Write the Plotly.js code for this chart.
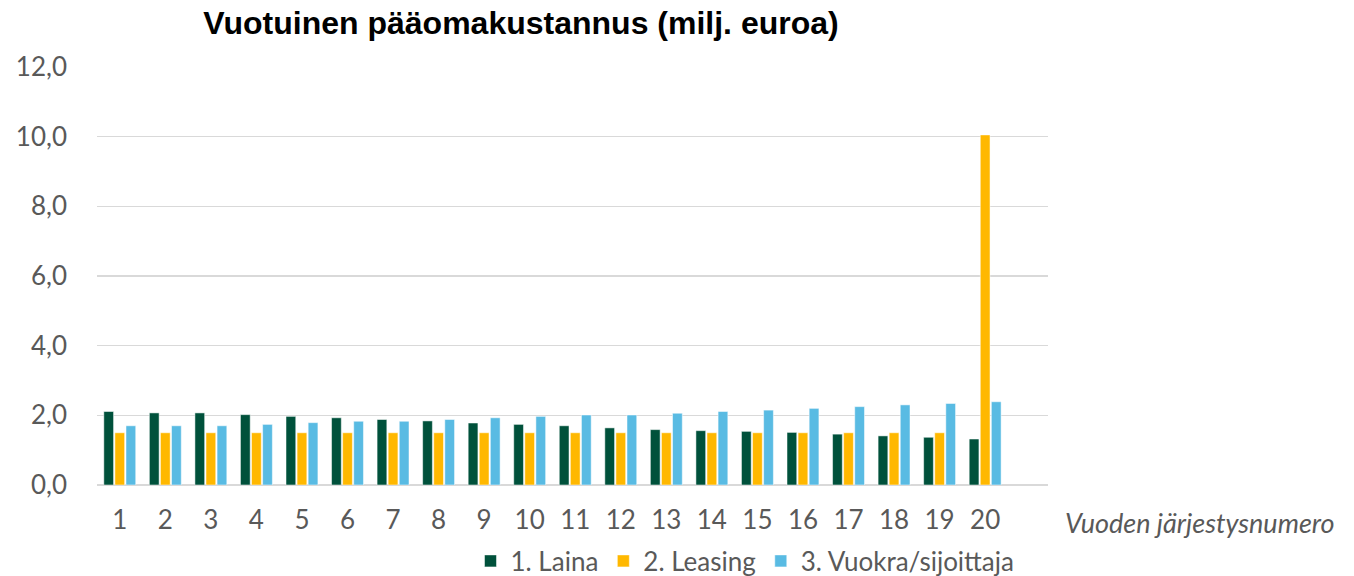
<!DOCTYPE html>
<html><head><meta charset="utf-8">
<script src="https://cdn.plot.ly/plotly-3.0.1.min.js"></script>
<style>html,body{margin:0;padding:0;background:#fff}</style>
</head><body>
<div id="chart" style="width:1354px;height:576px"></div>
<script>
const years = [1,2,3,4,5,6,7,8,9,10,11,12,13,14,15,16,17,18,19,20];
const laina = [2.11,2.07,2.07,2.02,1.97,1.93,1.88,1.84,1.78,1.74,1.70,1.64,1.59,1.56,1.54,1.51,1.46,1.41,1.37,1.32];
const leasing = [1.5,1.5,1.5,1.5,1.5,1.5,1.5,1.5,1.5,1.5,1.5,1.5,1.5,1.5,1.5,1.5,1.5,1.5,1.5,10.05];
const vuokra = [1.70,1.70,1.70,1.74,1.79,1.83,1.83,1.88,1.93,1.97,2.01,2.01,2.06,2.11,2.15,2.20,2.25,2.30,2.34,2.39];
const seriesNames = ['1. Laina','2. Leasing','3. Vuokra/sijoittaja'];
const colors = ['#00513B','#FFB800','#59BBE3'];
const yTicks = [0,2,4,6,8,10,12];

const data = [laina, leasing, vuokra].map((v,i)=>({
  type:'bar', x: years, y: v, name: seriesNames[i],
  marker:{color: colors[i], line:{color:'#ffffff', width:0.5}},
  hoverinfo:'x+y'
}));

const L = 97, R = 1048, T = 67, B = 485;
const pw = R - L, ph = B - T;

const layout = {
  width:1354, height:576,
  margin:{l:L, r:1354-R, t:T, b:576-B, autoexpand:false},
  paper_bgcolor:'#fff', plot_bgcolor:'#fff',
  separators:', ',
  barmode:'group', bargap:0.27, bargroupgap:0.12,
  font:{family:'Lato, "Open Sans", sans-serif', color:'#595959', size:26},
  title:{text:'Vuotuinen pääomakustannus (milj. euroa)', x:521/1354, xanchor:'center', y:1-23/576, yanchor:'middle',
    font:{family:'"Liberation Sans", Arial, sans-serif', size:32, color:'#000', weight:'bold'}},
  xaxis:{range:[0.5,21.38], tickvals:years, ticktext:years.map(String), showgrid:false, zeroline:false,
    showline:false, ticks:'', tickangle:0, ticklabelstandoff:17, tickfont:{size:26, color:'#595959'}},
  yaxis:{range:[0,12], tickvals:yTicks, ticktext:yTicks.map(v=>v.toFixed(1).replace('.',',')),
    showgrid:true, gridcolor:'#D9D9D9', gridwidth:1.5, zeroline:true, zerolinecolor:'#D9D9D9', zerolinewidth:1.5,
    showline:false, ticks:'', ticklabelstandoff:29, tickfont:{size:26, color:'#595959'}},
  legend:{orientation:'h', xref:'paper', x:(745-L)/pw, xanchor:'center', y:-76/ph, yanchor:'middle',
    font:{size:26, color:'#595959'}, itemwidth:30, traceorder:'normal'},
  annotations:[{text:'<i>Vuoden järjestysnumero</i>', xref:'paper', yref:'paper', x:(1063-L)/pw, xanchor:'left',
    y:-37/ph, yanchor:'middle', showarrow:false, font:{size:27, color:'#595959'}}]
};
Plotly.newPlot('chart', data, layout, {displayModeBar:false, staticPlot:true});
</script>
</body></html>
